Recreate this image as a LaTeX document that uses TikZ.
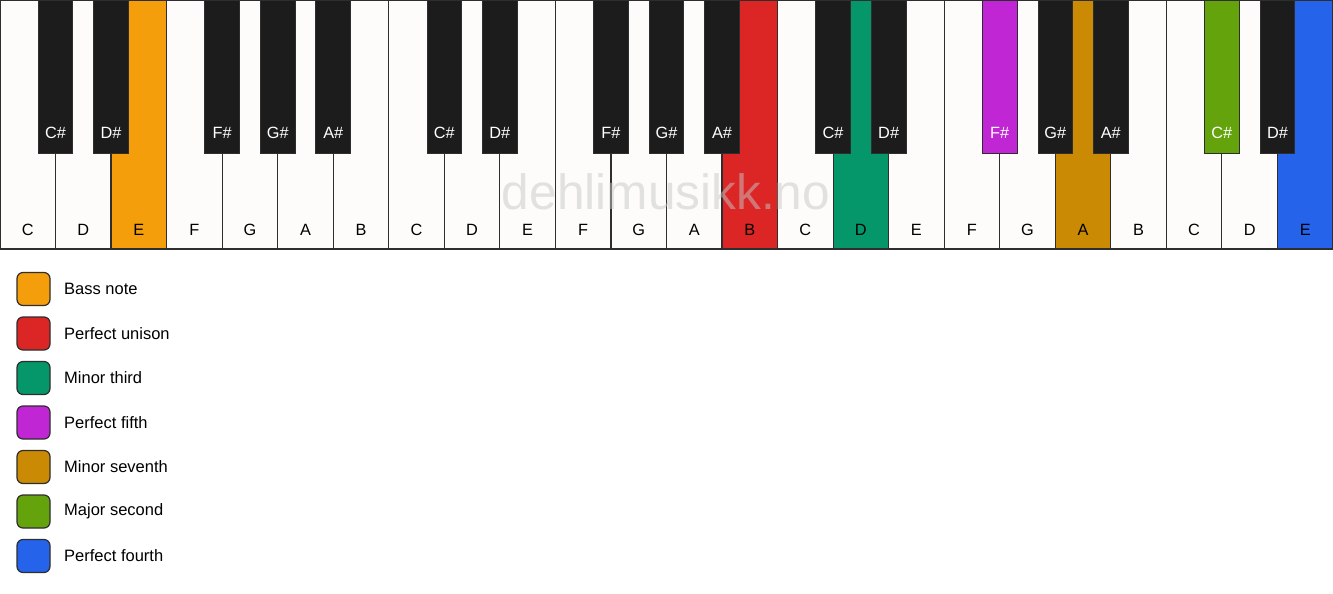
\documentclass[tikz,border=0pt]{standalone}
\usepackage{fontspec}
\setmainfont{Liberation Sans}
\usetikzlibrary{positioning}
\definecolor{keywhite}{HTML}{FDFCFA}
\definecolor{keyblack}{HTML}{1C1C1C}
\definecolor{keyedge}{HTML}{2E2E2E}
\definecolor{bassnote}{HTML}{F59E0B}
\definecolor{unison}{HTML}{DC2626}
\definecolor{minthird}{HTML}{059669}
\definecolor{perffifth}{HTML}{C026D3}
\definecolor{minseventh}{HTML}{CA8A04}
\definecolor{majsecond}{HTML}{65A30D}
\definecolor{perffourth}{HTML}{2563EB}
\tikzstyle{whitekey} = [rectangle, draw=keyedge, line width=1.2pt, inner sep=0pt, outer sep=0pt, anchor=north west, minimum width=55.54pt, minimum height=249pt]
\tikzstyle{blackkey} = [rectangle, draw=keyedge, line width=0.9pt, inner sep=0pt, outer sep=0pt, anchor=north, minimum width=34.6pt, minimum height=153pt]
\tikzstyle{keytext} = [inner sep=0pt, font=\fontsize{16.3}{19}\selectfont]
\tikzstyle{legendbox} = [rectangle, rounded corners=6pt, draw=keyedge, line width=1.2pt, minimum size=33pt, inner sep=0pt]
\tikzstyle{legendtext} = [anchor=west, inner sep=0pt, font=\fontsize{16.5}{19}\selectfont]
\tikzstyle{watermark} = [text=white!78!black, opacity=0.5, font=\fontsize{49.6}{56}\selectfont, inner sep=0pt]

\begin{document}
\begin{tikzpicture}[x=1pt, y=-1pt]
    \useasboundingbox[fill=white] (0,0) rectangle (1333,594);
    % white keys
    \foreach \n/\c [count=\i from 0] in {C/keywhite, D/keywhite, E/bassnote, F/keywhite, G/keywhite, A/keywhite, B/keywhite,
        C/keywhite, D/keywhite, E/keywhite, F/keywhite, G/keywhite, A/keywhite, B/unison,
        C/keywhite, D/minthird, E/keywhite, F/keywhite, G/keywhite, A/minseventh, B/keywhite,
        C/keywhite, D/keywhite, E/perffourth} {
        \node (w\i) [whitekey, fill=\c] at (\i*55.54, 0) {};
        \node (wl\i) [keytext] at ([yshift=19pt]w\i.south) {\n};
    }
    \node (mark) [watermark] at (666, 192) {dehlimusikk.no};
    % black keys
    \foreach \b/\n/\c in {1/C/keyblack, 2/D/keyblack, 4/F/keyblack, 5/G/keyblack, 6/A/keyblack,
        8/C/keyblack, 9/D/keyblack, 11/F/keyblack, 12/G/keyblack, 13/A/keyblack,
        15/C/keyblack, 16/D/keyblack, 18/F/perffifth, 19/G/keyblack, 20/A/keyblack,
        22/C/majsecond, 23/D/keyblack} {
        \node (b\b) [blackkey, fill=\c] at (\b*55.54, 0) {};
        \node (bl\b) [keytext, text=white] at ([yshift=20pt]b\b.south) {\n\#};
    }
    % legend
    \foreach \c/\t [count=\k from 0] in {bassnote/Bass note, unison/Perfect unison, minthird/Minor third,
        perffifth/Perfect fifth, minseventh/Minor seventh, majsecond/Major second, perffourth/Perfect fourth} {
        \node (box\k) [legendbox, fill=\c] at (33.5, 289+\k*44.5) {};
        \node (txt\k) [legendtext] at (64, 289+\k*44.5) {\t};
    }
\end{tikzpicture}
\end{document}
